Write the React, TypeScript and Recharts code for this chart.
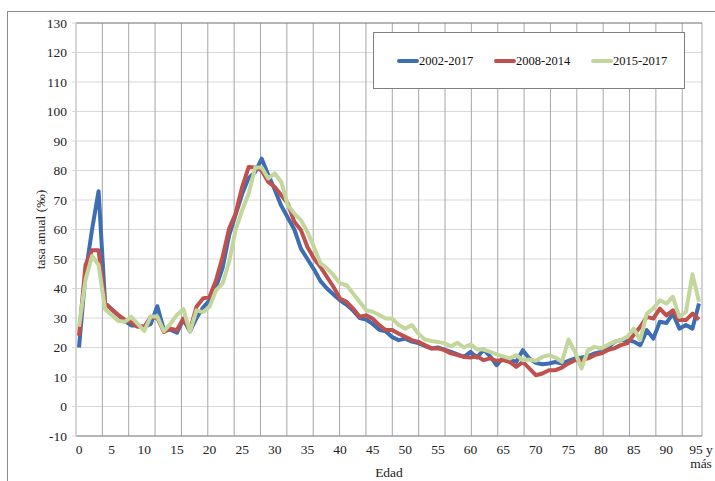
import React from 'react';
import {
  LineChart,
  Line,
  XAxis,
  YAxis,
  CartesianGrid,
  Legend,
  ReferenceLine,
} from 'recharts';

// edades 0..95 ("95 y más")
const ages = [
  0, 1, 2, 3, 4, 5, 6, 7, 8, 9, 10, 11, 12, 13, 14, 15, 16, 17, 18, 19,
  20, 21, 22, 23, 24, 25, 26, 27, 28, 29, 30, 31, 32, 33, 34, 35, 36, 37, 38, 39,
  40, 41, 42, 43, 44, 45, 46, 47, 48, 49, 50, 51, 52, 53, 54, 55, 56, 57, 58, 59,
  60, 61, 62, 63, 64, 65, 66, 67, 68, 69, 70, 71, 72, 73, 74, 75, 76, 77, 78, 79,
  80, 81, 82, 83, 84, 85, 86, 87, 88, 89, 90, 91, 92, 93, 94, 95,
];

const serie2002 = [
  20, 45, 60, 73, 35, 33, 31, 29, 27.5, 27.5, 27, 28, 34, 26, 26, 25, 29.5, 25.5, 30, 33.5,
  36, 40.5, 47, 58, 65, 72, 77.5, 79.5, 84, 78.5, 73.5, 68, 64, 60, 53.5, 50, 46.5, 42.5, 40, 38,
  36, 34.5, 32.5, 30, 29.5, 28, 26, 25.5, 23.5, 22.5, 23, 22, 21.5, 20.5, 19.7, 20, 19.3, 18.5, 17.7, 16.8,
  18.5, 16.6, 19.3, 17, 14, 16.6, 15.9, 15.1, 19.1, 16.3, 14.8, 14.3, 14.6, 15.1, 14.6, 15.5, 16.3, 16.6, 17, 18,
  18.5, 19.7, 21.9, 22.5, 22.5, 22, 20.8, 25.9, 23, 28.7, 28.3, 31.5, 26.4, 27.6, 26.4, 34.9,
];

const serie2008 = [
  24, 48, 53, 53, 35, 33, 31, 29.5, 28.5, 27, 27, 30.4, 30, 25.3, 26.4, 25.9, 29.8, 25.9, 33.8, 36.6,
  37.2, 42.8, 50.7, 60.3, 65.4, 74.4, 81.2, 81, 80, 76.1, 74.4, 71.6, 68.8, 62.6, 59.8, 54.1, 50.2, 47.3, 43.9, 40.5,
  36.6, 35.5, 33.2, 30.4, 30.9, 29.8, 27.6, 25.9, 25.9, 24.7, 23.6, 22.5, 21.9, 20.8, 19.7, 19.7, 19.1, 18, 17.4, 16.8,
  16.6, 17, 15.7, 16.3, 15.5, 15.7, 15.1, 13.4, 15.1, 12.9, 10.6, 11.2, 12.3, 12.3, 13.2, 14.6, 15.7, 15.7, 16.3, 17.4,
  18, 19.1, 19.7, 20.8, 21.4, 24.2, 27, 30.4, 29.8, 33.2, 30.9, 32.6, 29.3, 29.3, 31.5, 29.5,
];

const serie2015 = [
  27, 43, 51, 48, 33, 31, 29, 28.7, 30.4, 28, 25.6, 30.5, 30.5, 25.5, 28, 31, 33, 25.3, 32.6, 32,
  33.8, 39.4, 41.7, 49, 60, 66.5, 72.2, 81, 81, 77.3, 79, 76.1, 68.2, 65.4, 63.2, 59.2, 54.1, 48.5, 46.8, 44.5,
  41.7, 41.1, 38.3, 35.5, 32.6, 32.1, 31, 29.8, 29.8, 27.6, 26.4, 27.6, 24.7, 22.7, 22.2, 21.9, 21.4, 20.4, 21.6, 20,
  21.1, 19.3, 19.3, 18.5, 17.7, 17, 16.3, 17.4, 15.7, 15.9, 15.5, 16.8, 17.4, 16.6, 15.1, 22.7, 18.5, 12.9, 19.1, 20.2,
  19.7, 20.8, 21.9, 22.5, 23.6, 26.4, 22.5, 31.5, 33.2, 36, 34.9, 37.2, 30.4, 32.1, 44.8, 35.5,
];

const yTicks = [-10, 0, 10, 20, 30, 40, 50, 60, 70, 80, 90, 100, 110, 120, 130];
const gridTicks = [4, 8, 12, 16, 20, 24, 28, 32, 36, 40, 44, 48, 52, 56, 60, 64, 68, 72, 76, 80, 84, 88, 92];

const series = [
  { key: 'p2002', name: '2002-2017', color: '#3d6db2' },
  { key: 'p2008', name: '2008-2014', color: '#c0504d' },
  { key: 'p2015', name: '2015-2017', color: '#c3d69b' },
];

const data = ages.map((age, i) => ({
  age,
  p2002: serie2002[i],
  p2008: serie2008[i],
  p2015: serie2015[i],
}));

const FONT = '"Liberation Serif", "Times New Roman", serif';
const textStyle = { fontFamily: FONT, fontSize: 13.5, fill: '#222' };

const AgeTick = (props: any) => {
  const { x, y, payload } = props;
  if (payload.value === 95) {
    return (
      <text x={x} y={y} textAnchor="middle" style={textStyle}>
        <tspan x={x + 2} dy="0.71em">95 y</tspan>
        <tspan x={x + 2} dy="1.1em">más</tspan>
      </text>
    );
  }
  return (
    <text x={x} y={y} dy="0.71em" textAnchor="middle" style={textStyle}>
      {payload.value}
    </text>
  );
};

const RateTick = (props: any) => {
  const { x, y, payload } = props;
  return (
    <text x={x} y={y} dy="0.35em" textAnchor="end" style={textStyle}>
      {payload.value}
    </text>
  );
};

const LegendBox = () => (
  <div
    style={{
      position: 'relative',
      width: 312,
      height: 57,
      boxSizing: 'border-box',
      border: '1px solid #7f7f7f',
      background: '#fff',
    }}
  >
    {series.map((s, i) => (
      <div
        key={s.key}
        style={{
          position: 'absolute',
          left: 23 + i * 97,
          top: 21,
          height: 14,
          display: 'flex',
          alignItems: 'center',
        }}
      >
        <span style={{ display: 'inline-block', width: 22, height: 4, borderRadius: 2, background: s.color }} />
        <span style={{ fontFamily: FONT, fontSize: 12.5, color: '#111', lineHeight: '14px' }}>{s.name}</span>
      </div>
    ))}
  </div>
);

export default function App() {
  return (
    <div style={{ position: 'absolute', left: 0, top: 0, width: 715, height: 481, background: '#fff', overflow: 'hidden' }}>
      <div
        style={{
          position: 'absolute',
          left: 7,
          top: 11,
          width: 720,
          height: 480,
          borderTop: '1px solid #8c8c8c',
          borderLeft: '1px solid #8c8c8c',
        }}
      />
      <LineChart width={715} height={481} data={data} margin={{ top: 23, right: 13, bottom: 15, left: 0 }}>
        <CartesianGrid horizontal vertical={false} stroke="#d9d9d9" />
        <CartesianGrid horizontal={false} vertical xAxisId="grid" stroke="#a6a6a6" />
        <XAxis
          dataKey="age"
          interval={4}
          padding={{ left: 3, right: 3 }}
          height={30}
          tick={<AgeTick />}
          tickLine={false}
          axisLine={{ stroke: '#808080' }}
          label={{ value: 'Edad', position: 'bottom', offset: 1, style: textStyle }}
        />
        <XAxis xAxisId="grid" type="number" domain={[0, 96]} ticks={gridTicks} hide />
        <YAxis
          width={76}
          domain={[-10, 130]}
          ticks={yTicks}
          interval={0}
          tickSize={4}
          tickMargin={5}
          tickLine={{ stroke: '#d9d9d9' }}
          axisLine={{ stroke: '#d9d9d9' }}
          tick={<RateTick />}
          label={{ value: 'tasa anual (‰)', angle: -90, position: 'center', dx: 2, style: textStyle }}
        />
        <ReferenceLine y={130} stroke="#808080" />
        <ReferenceLine x={96} xAxisId="grid" stroke="#808080" />
        {series.map((s) => (
          <Line
            key={s.key}
            type="linear"
            dataKey={s.key}
            name={s.name}
            stroke={s.color}
            strokeWidth={4}
            strokeLinejoin="round"
            dot={false}
            activeDot={false}
            isAnimationActive={false}
          />
        ))}
        <Legend
          layout="horizontal"
          verticalAlign="middle"
          content={<LegendBox />}
          wrapperStyle={{ left: 373, top: 32, width: 312, height: 57 }}
        />
      </LineChart>
    </div>
  );
}
